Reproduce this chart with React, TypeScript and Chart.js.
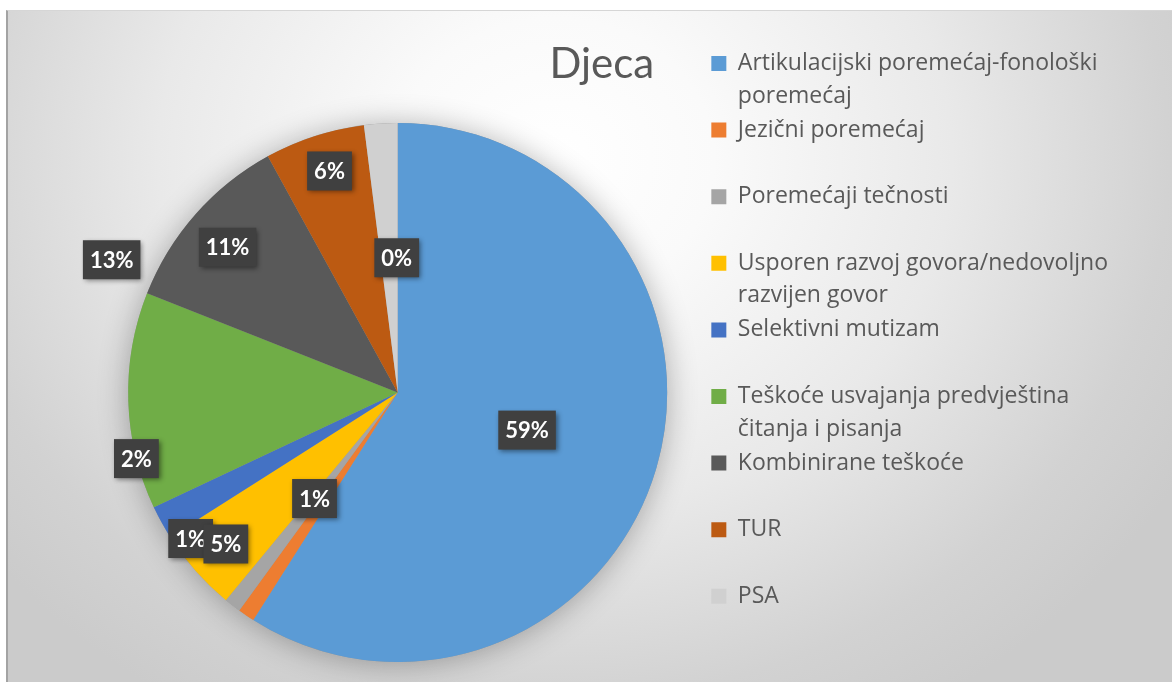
import React, { useEffect, useRef } from 'react';
import { Chart, registerables } from 'chart.js';

Chart.register(...registerables);

// ---- data ----
const titleText = 'Djeca';
const categories: string[][] = [
  ['Artikulacijski poremećaj-fonološki', 'poremećaj'],
  ['Jezični poremećaj'],
  ['Poremećaji tečnosti'],
  ['Usporen razvoj govora/nedovoljno', 'razvijen govor'],
  ['Selektivni mutizam'],
  ['Teškoće usvajanja predvještina', 'čitanja i pisanja'],
  ['Kombinirane teškoće'],
  ['TUR'],
  ['PSA'],
];
const shares = [59, 1, 1, 5, 2, 13, 11, 6, 2];
const dataLabelTexts = ['59%', '1%', '1%', '5%', '2%', '13%', '11%', '6%', '0%'];
const sliceColors = [
  '#5B9BD5', '#ED7D31', '#A5A5A5', '#FFC000', '#4472C4',
  '#70AD47', '#595959', '#BC5A12', '#D0D0D0',
];

// label placement (angle shift in degrees from slice middle, radius fraction)
const labelAngleShift = [0, 3.9, 17, 0, 14.6, 26.7, -0.9, 0.9, 3.2];
const labelRadiusFrac = [0.5, 0.5, 0.94, 0.85, 1.0, 1.17, 0.83, 0.86, 0.5];

const FONT = 'Lato, "Open Sans", sans-serif';
const LEGEND_FONT = '"Open Sans", Lato, sans-serif';

const pieShadow = {
  id: 'pieShadow',
  beforeDatasetsDraw(chart: any) {
    const meta = chart.getDatasetMeta(0);
    const el = meta.data[0];
    if (!el) return;
    const { x, y, outerRadius } = el.getProps(['x', 'y', 'outerRadius'], true);
    const ctx = chart.ctx;
    ctx.save();
    ctx.shadowColor = 'rgba(0,0,0,0.3)';
    ctx.shadowBlur = 30;
    ctx.shadowOffsetX = 0;
    ctx.shadowOffsetY = 2;
    ctx.beginPath();
    ctx.arc(x, y, outerRadius, 0, Math.PI * 2);
    ctx.fillStyle = '#999';
    ctx.fill();
    ctx.restore();
  },
};

const boxLabels = {
  id: 'boxLabels',
  afterDatasetsDraw(chart: any) {
    const meta = chart.getDatasetMeta(0);
    const ctx = chart.ctx;
    ctx.save();
    ctx.font = `bold 22px ${FONT}`;
    ctx.textAlign = 'center';
    ctx.textBaseline = 'middle';
    meta.data.forEach((el: any, i: number) => {
      const p = el.getProps(['x', 'y', 'startAngle', 'endAngle', 'outerRadius'], true);
      const mid = (p.startAngle + p.endAngle) / 2 + (labelAngleShift[i] * Math.PI) / 180;
      const rr = p.outerRadius * labelRadiusFrac[i];
      const cx = p.x + Math.cos(mid) * rr;
      const cy = p.y + Math.sin(mid) * rr;
      const text = dataLabelTexts[i];
      const tw = ctx.measureText(text).width;
      const bw = tw + 14;
      const bh = 39;
      ctx.save();
      ctx.shadowColor = 'rgba(0,0,0,0.45)';
      ctx.shadowBlur = 5;
      ctx.shadowOffsetX = 2;
      ctx.shadowOffsetY = 2;
      ctx.fillStyle = '#404040';
      ctx.fillRect(cx - bw / 2, cy - bh / 2, bw, bh);
      ctx.restore();
      ctx.fillStyle = '#ffffff';
      ctx.fillText(text, cx, cy + 1);
    });
    ctx.restore();
  },
};

export default function App() {
  const canvasRef = useRef<HTMLCanvasElement | null>(null);

  useEffect(() => {
    if (!canvasRef.current) return;
    const chart = new Chart(canvasRef.current, {
      type: 'pie',
      data: {
        labels: categories as any,
        datasets: [
          {
            data: shares,
            backgroundColor: sliceColors,
            borderWidth: 0,
          },
        ],
      },
      options: {
        responsive: false,
        animation: false,
        devicePixelRatio: 1,
        layout: { padding: { left: 77.6, right: 54, top: 32, bottom: 20 } },
        plugins: {
          title: {
            display: true,
            text: titleText,
            color: '#595959',
            fullSize: true,
            font: { family: FONT, size: 42, weight: 'normal', lineHeight: 1 },
            padding: { top: 0, bottom: 38 },
          },
          legend: {
            position: 'right',
            align: 'start',
            fullSize: true,
            title: { display: true, text: '', font: { size: 7, lineHeight: 1.057 }, padding: 0 },
            labels: {
              boxWidth: 15,
              boxHeight: 15,
              padding: 1.6,
              color: '#595959',
              font: { family: LEGEND_FONT, size: 23, lineHeight: 1.413 },
              generateLabels(chart: any) {
                const base = (Chart as any).overrides.pie.plugins.legend.labels.generateLabels(chart);
                return base.map((item: any, i: number) => {
                  const lines = categories[i].slice();
                  while (lines.length < 2) lines.push('');
                  return { ...item, text: lines, strokeStyle: item.fillStyle, lineWidth: 0 };
                });
              },
            },
          },
          tooltip: { enabled: false },
        },
      } as any,
      plugins: [pieShadow, boxLabels],
    });
    return () => chart.destroy();
  }, []);

  return (
    <div style={{ position: 'fixed', left: 0, top: 0, width: 1172, height: 682, background: '#ffffff', overflow: 'hidden' }}>
      <div
        style={{
          position: 'absolute',
          left: 6,
          top: 10,
          width: 1166,
          height: 672,
          boxSizing: 'border-box',
          borderLeft: '2px solid #a3a3a3',
          borderTop: '1px solid #d6d6d6',
          background:
            'radial-gradient(ellipse 62% 95% at 47% 22%, #ffffff 0%, #fafafa 22%, #e9e9e9 55%, #d2d2d2 85%, #cbcbcb 100%)',
        }}
      >
        <canvas ref={canvasRef} width={1164} height={671} style={{ display: 'block', width: 1164, height: 671 }} />
      </div>
    </div>
  );
}
